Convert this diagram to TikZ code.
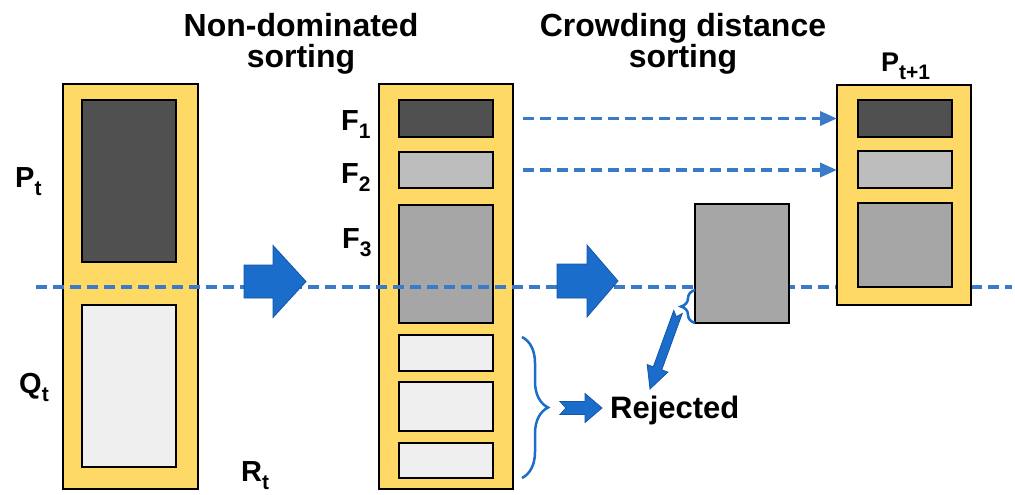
\documentclass[tikz,border=0pt]{standalone}
\usepackage{fontspec}
\setmainfont{Liberation Sans}
\usetikzlibrary{calc,arrows.meta,decorations.pathreplacing}
\definecolor{popyellow}{HTML}{FFD966}
\definecolor{fdark}{HTML}{505050}
\definecolor{fmid}{HTML}{A6A6A6}
\definecolor{flight}{HTML}{BDBDBD}
\definecolor{fpale}{HTML}{EFEFEF}
\definecolor{arrowblue}{HTML}{1A6DCB}
\definecolor{arrowedge}{HTML}{1556A6}
\definecolor{lineblue}{HTML}{3A7AC6}
\newcommand\sbs[1]{\raisebox{-0.28em}{\fontsize{21}{21}\selectfont #1}}
\newcommand\fatarrow[6]{%
  \coordinate (fa-h) at ($(#2)!#5!(#1)$);
  \coordinate (fa-n) at ($(#1)!#6!(#2)$);
  \filldraw[fatstyle] ($(#1)!#3!90:(#2)$) -- ($(fa-h)!#3!-90:(#1)$) -- ($(fa-h)!#4!-90:(#1)$) -- (#2)
    -- ($(fa-h)!#4!90:(#1)$) -- ($(fa-h)!#3!90:(#1)$) -- ($(#1)!#3!-90:(#2)$) -- (fa-n) -- cycle;}
\tikzset{
  popbox/.style={draw=black, line width=2pt, fill=popyellow, inner sep=0pt, outer sep=0pt},
  solbox/.style={draw=black, line width=2.8pt, inner sep=0pt, outer sep=0pt, minimum width=94},
  lbl/.style={font=\bfseries\fontsize{29}{29}\selectfont, inner sep=0pt, anchor=base west},
  ttl/.style={font=\bfseries\fontsize{32}{32}\selectfont, inner sep=0pt, anchor=base},
  dashline/.style={draw=lineblue, line width=3.5pt, dash pattern=on 11pt off 6pt},
  dasharr/.style={dashline, -{Triangle[length=17pt,width=14pt]}},
  fatstyle/.style={fill=arrowblue, draw=arrowedge, line width=0.8pt, line join=miter},
  bluebrace/.style={draw=arrowblue, line width=2.5pt, decorate},
}
\begin{document}
\begin{tikzpicture}[x=1pt,y=-1pt]
\useasboundingbox (0,0) rectangle (1015,495);
% titles
\node[ttl] (t1a) at (301,37) {Non-dominated};
\node[ttl] (t1b) at (301,68) {sorting};
\node[ttl] (t2a) at (683,37) {Crowding distance};
\node[ttl] (t2b) at (683,68) {sorting};
% left column R_t
\node[popbox, minimum width=135, minimum height=405] (Lout) at (130.5,286.5) {};
\node[solbox, fill=fdark, minimum height=162] (Ldark) at (129,181) {};
\node[solbox, fill=fpale, minimum height=162] (Llight) at (129,386) {};
\node[lbl] (Pt) at (15,187) {P\sbs{t}};
\node[lbl] (Qt) at (19,393) {Q\sbs{t}};
\node[lbl] (Rt) at (241,481) {R\sbs{t}};
% middle column
\node[popbox, minimum width=134, minimum height=405] (Mout) at (446,286.5) {};
\node[solbox, fill=fdark, minimum height=37] (F1) at (446,118.5) {};
\node[solbox, fill=flight, minimum height=36] (F2) at (446,170) {};
\node[solbox, fill=fmid, minimum height=118] (F3) at (446,264) {};
\node[solbox, fill=fpale, minimum height=36] (R1) at (446,353) {};
\node[solbox, fill=fpale, minimum height=49] (R2) at (446,406.5) {};
\node[solbox, fill=fpale, minimum height=35] (R3) at (446,460.5) {};
\node[lbl] (F1l) at (341,130) {F\sbs{1}};
\node[lbl] (F2l) at (341,183) {F\sbs{2}};
\node[lbl] (F3l) at (342,248) {F\sbs{3}};
% dashed separation line
\coordinate (dashL) at (36,287);
\coordinate (dashR) at (1012,287);
\draw[dashline] (dashL) -- (dashR);
% big arrows
\coordinate (a1s) at (244,281.5);
\coordinate (a1e) at (306,281.5);
\fatarrow{a1s}{a1e}{16.5pt}{36pt}{33pt}{0pt}
\coordinate (a2s) at (557,281);
\coordinate (a2e) at (618,281);
\fatarrow{a2s}{a2e}{17pt}{36pt}{31pt}{0pt}
% partially accepted front
\node[solbox, fill=fmid, minimum height=119] (G) at (742,263.5) {};
% next population
\node[popbox, minimum width=134, minimum height=220] (Pout) at (904,195) {};
\node[solbox, fill=fdark, minimum height=37] (P1) at (905,118.5) {};
\node[solbox, fill=flight, minimum height=37] (P2) at (905,169.5) {};
\node[solbox, fill=fmid, minimum height=84] (P3) at (905,245) {};
\node[lbl, font=\bfseries\fontsize{27}{27}\selectfont] (Ptp1) at (881,72) {P\sbs{t+1}};
% dashed arrows
\draw[dasharr] ([xshift=10]Mout.east |- F1.center) -- (Pout.west |- F1.center);
\draw[dasharr] ([xshift=10]Mout.east |- F2.center) -- (Pout.west |- F2.center);
% braces
\draw[bluebrace, decoration={brace, amplitude=26pt, aspect=0.5}] (522,337) -- (522,478);
\draw[bluebrace, decoration={brace, amplitude=14pt, aspect=0.5}] (695,323) -- (695,290);
% rejected
\node[lbl, font=\bfseries\fontsize{31}{31}\selectfont] (Rej) at (610,418) {Rejected};
\coordinate (a3s) at (560,408);
\coordinate (a3e) at (602,408);
\fatarrow{a3s}{a3e}{6.5pt}{14.5pt}{17pt}{6pt}
\coordinate (a4s) at (678,312);
\coordinate (a4e) at (650,389);
\fatarrow{a4s}{a4e}{4.5pt}{11pt}{22pt}{5pt}
\end{tikzpicture}
\end{document}
